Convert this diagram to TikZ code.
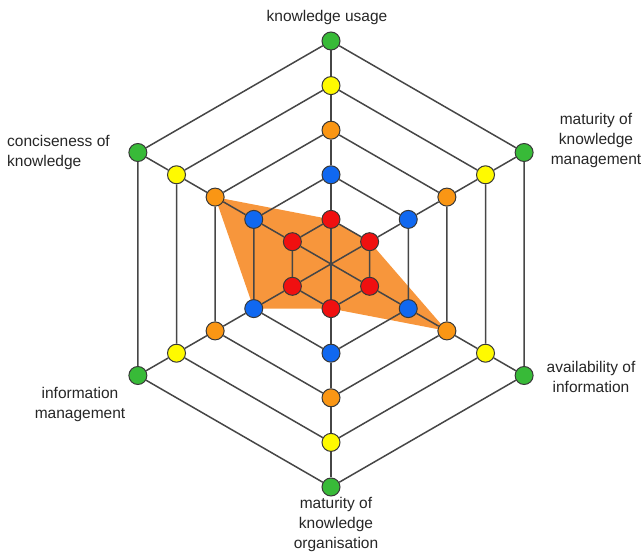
\documentclass[tikz,border=0pt]{standalone}
\usepackage{fontspec}
\setmainfont{Liberation Sans}
\usetikzlibrary{backgrounds,calc}

\definecolor{dotred}{RGB}{240,16,16}
\definecolor{dotblue}{RGB}{16,104,240}
\definecolor{dotorange}{RGB}{250,150,20}
\definecolor{dotyellow}{RGB}{255,250,0}
\definecolor{dotgreen}{RGB}{56,186,56}
\definecolor{areaorange}{RGB}{247,150,60}
\definecolor{gridgray}{RGB}{70,70,70}

\begin{document}
\begin{tikzpicture}[x=1pt,y=1pt]
    \tikzstyle{dot} = [draw=gridgray!80!black, line width=1pt, circle, minimum size=18pt, inner sep=0pt]
    \tikzstyle{grid} = [draw=gridgray, line width=1.5pt]
    \tikzstyle{axislabel} = [font=\fontsize{15.5}{20}\selectfont, text=black!85, inner sep=0pt]
    \useasboundingbox (0,0) rectangle (643,554);

    % Centre of the chart
    \coordinate (C) at (331,290);

    % Level 1, red
    \node [dot, fill=dotred] (Use1) at ($(C)+(90:44.6)$) {};
    \node [dot, fill=dotred] (KM1) at ($(C)+(30:44.6)$) {};
    \node [dot, fill=dotred] (Avail1) at ($(C)+(-30:44.6)$) {};
    \node [dot, fill=dotred] (KO1) at ($(C)+(-90:44.6)$) {};
    \node [dot, fill=dotred] (IM1) at ($(C)+(-150:44.6)$) {};
    \node [dot, fill=dotred] (Conc1) at ($(C)+(150:44.6)$) {};

    % Level 2, blue
    \node [dot, fill=dotblue] (Use2) at ($(C)+(90:89.2)$) {};
    \node [dot, fill=dotblue] (KM2) at ($(C)+(30:89.2)$) {};
    \node [dot, fill=dotblue] (Avail2) at ($(C)+(-30:89.2)$) {};
    \node [dot, fill=dotblue] (KO2) at ($(C)+(-90:89.2)$) {};
    \node [dot, fill=dotblue] (IM2) at ($(C)+(-150:89.2)$) {};
    \node [dot, fill=dotblue] (Conc2) at ($(C)+(150:89.2)$) {};

    % Level 3, orange
    \node [dot, fill=dotorange] (Use3) at ($(C)+(90:133.8)$) {};
    \node [dot, fill=dotorange] (KM3) at ($(C)+(30:133.8)$) {};
    \node [dot, fill=dotorange] (Avail3) at ($(C)+(-30:133.8)$) {};
    \node [dot, fill=dotorange] (KO3) at ($(C)+(-90:133.8)$) {};
    \node [dot, fill=dotorange] (IM3) at ($(C)+(-150:133.8)$) {};
    \node [dot, fill=dotorange] (Conc3) at ($(C)+(150:133.8)$) {};

    % Level 4, yellow
    \node [dot, fill=dotyellow] (Use4) at ($(C)+(90:178.4)$) {};
    \node [dot, fill=dotyellow] (KM4) at ($(C)+(30:178.4)$) {};
    \node [dot, fill=dotyellow] (Avail4) at ($(C)+(-30:178.4)$) {};
    \node [dot, fill=dotyellow] (KO4) at ($(C)+(-90:178.4)$) {};
    \node [dot, fill=dotyellow] (IM4) at ($(C)+(-150:178.4)$) {};
    \node [dot, fill=dotyellow] (Conc4) at ($(C)+(150:178.4)$) {};

    % Level 5, green
    \node [dot, fill=dotgreen] (Use5) at ($(C)+(90:223)$) {};
    \node [dot, fill=dotgreen] (KM5) at ($(C)+(30:223)$) {};
    \node [dot, fill=dotgreen] (Avail5) at ($(C)+(-30:223)$) {};
    \node [dot, fill=dotgreen] (KO5) at ($(C)+(-90:223)$) {};
    \node [dot, fill=dotgreen] (IM5) at ($(C)+(-150:223)$) {};
    \node [dot, fill=dotgreen] (Conc5) at ($(C)+(150:223)$) {};

    % Spokes, centre to outer ring
    \draw [grid] (C) -- (Use1) -- (Use2) -- (Use3) -- (Use4) -- (Use5);
    \draw [grid] (C) -- (KM1) -- (KM2) -- (KM3) -- (KM4) -- (KM5);
    \draw [grid] (C) -- (Avail1) -- (Avail2) -- (Avail3) -- (Avail4) -- (Avail5);
    \draw [grid] (C) -- (KO1) -- (KO2) -- (KO3) -- (KO4) -- (KO5);
    \draw [grid] (C) -- (IM1) -- (IM2) -- (IM3) -- (IM4) -- (IM5);
    \draw [grid] (C) -- (Conc1) -- (Conc2) -- (Conc3) -- (Conc4) -- (Conc5);

    % Rings, one per level
    \draw [grid] (Use1) -- (KM1) -- (Avail1) -- (KO1) -- (IM1) -- (Conc1) -- (Use1);
    \draw [grid] (Use2) -- (KM2) -- (Avail2) -- (KO2) -- (IM2) -- (Conc2) -- (Use2);
    \draw [grid] (Use3) -- (KM3) -- (Avail3) -- (KO3) -- (IM3) -- (Conc3) -- (Use3);
    \draw [grid] (Use4) -- (KM4) -- (Avail4) -- (KO4) -- (IM4) -- (Conc4) -- (Use4);
    \draw [grid] (Use5) -- (KM5) -- (Avail5) -- (KO5) -- (IM5) -- (Conc5) -- (Use5);

    % Score area, behind the grid
    \begin{scope}[on background layer]
      \fill [areaorange] (Use1.center) -- (KM1.center) -- (Avail3.center) -- (KO1.center) -- (IM2.center) -- (Conc3.center) -- cycle;
    \end{scope}

    % Axis labels
    \node [axislabel] (UseLabel) at (327,537) {knowledge usage};
    \node [axislabel, align=center] (KMLabel) at (596,414) {maturity of\\knowledge\\management};
    \node [axislabel, align=center] (AvailLabel) at (591,177) {availability of\\information};
    \node [axislabel, align=center] (KOLabel) at (336,30) {maturity of\\knowledge\\organisation};
    \node [axislabel, align=center] (IMLabel) at (80,150) {information\\management};
    \node [axislabel, align=left, anchor=west] (ConcLabel) at (7,402) {conciseness of\\knowledge};
\end{tikzpicture}
\end{document}
